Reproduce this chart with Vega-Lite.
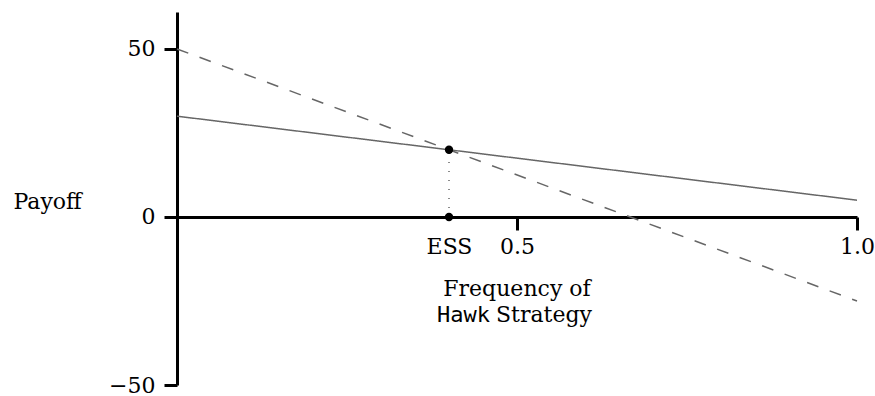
{
  "$schema": "https://vega.github.io/schema/vega-lite/v6.json",
  "width": 680,
  "height": 373,
  "autosize": {"type": "none"},
  "padding": {"left": 177, "top": 12, "right": 18, "bottom": 11},
  "background": "white",
  "config": {
    "view": {"stroke": null},
    "axis": {"grid": false, "domainColor": "black", "tickColor": "black", "labelColor": "black", "titleColor": "black", "labelFont": "DejaVu Serif", "titleFont": "DejaVu Serif", "labelFontSize": 22, "titleFontSize": 22, "titleFontWeight": "normal", "domainWidth": 3, "tickWidth": 3, "tickSize": 13}
  },
  "datasets": {
    "lines": [
      {"series": "upper", "x": 0, "y": 30},
      {"series": "upper", "x": 1, "y": 5},
      {"series": "dashed", "x": 0, "y": 50},
      {"series": "dashed", "x": 1, "y": -25}
    ],
    "ess": [
      {"x": 0.4, "y": 0, "y2": 20}
    ],
    "points": [
      {"x": 0.4, "y": 20},
      {"x": 0.4, "y": 0}
    ]
  },
  "layer": [
    {
      "data": {"name": "lines"},
      "mark": {"type": "line", "color": "#666666", "strokeWidth": 1.5},
      "encoding": {
        "x": {"field": "x", "type": "quantitative",
          "scale": {"domain": [0, 1], "nice": false, "zero": false},
          "axis": {"values": [0.4, 0.5, 1], "labelExpr": "datum.value == 0.4 ? 'ESS' : format(datum.value, '.1f')", "offset": -168, "labelPadding": 6, "labelFlush": false, "labelOverlap": false, "title": null,
            "tickOpacity": {"condition": {"test": "datum.value == 0.4", "value": 0}, "value": 1}}},
        "y": {"field": "y", "type": "quantitative",
          "scale": {"domain": [-50, 61], "nice": false, "zero": false},
          "axis": {"values": [-50, 0, 50], "labelPadding": 9, "labelFlush": false, "labelOverlap": false, "title": "Payoff", "titleAngle": 0, "titleAlign": "left", "titleBaseline": "alphabetic", "titleX": -164, "titleY": 196}},
        "strokeDash": {"field": "series", "type": "nominal", "scale": {"domain": ["upper", "dashed"], "range": [[1, 0], [12, 12]]}, "legend": null},
        "detail": {"field": "series"}
      }
    },
    {
      "data": {"name": "ess"},
      "mark": {"type": "rule", "color": "#666666", "strokeWidth": 1.5, "strokeDash": [1, 8]},
      "encoding": {
        "x": {"field": "x", "type": "quantitative"},
        "y": {"field": "y", "type": "quantitative"},
        "y2": {"field": "y2"}
      }
    },
    {
      "data": {"name": "points"},
      "mark": {"type": "point", "filled": true, "color": "black", "size": 70, "opacity": 1},
      "encoding": {
        "x": {"field": "x", "type": "quantitative"},
        "y": {"field": "y", "type": "quantitative"}
      }
    },
    {
      "data": {"values": [{"t": "Frequency of"}]},
      "mark": {"type": "text", "font": "DejaVu Serif", "fontSize": 22, "align": "center", "baseline": "alphabetic", "dy": 79, "color": "black"},
      "encoding": {
        "x": {"datum": 0.5, "type": "quantitative"},
        "y": {"datum": 0, "type": "quantitative"},
        "text": {"field": "t"}
      }
    },
    {
      "data": {"values": [{"t": "Hawk"}]},
      "mark": {"type": "text", "font": "DejaVu Sans Mono", "fontSize": 22, "align": "right", "baseline": "alphabetic", "dx": -27, "dy": 105, "color": "black"},
      "encoding": {
        "x": {"datum": 0.5, "type": "quantitative"},
        "y": {"datum": 0, "type": "quantitative"},
        "text": {"field": "t"}
      }
    },
    {
      "data": {"values": [{"t": "Strategy"}]},
      "mark": {"type": "text", "font": "DejaVu Serif", "fontSize": 22, "align": "left", "baseline": "alphabetic", "dx": -21, "dy": 105, "color": "black"},
      "encoding": {
        "x": {"datum": 0.5, "type": "quantitative"},
        "y": {"datum": 0, "type": "quantitative"},
        "text": {"field": "t"}
      }
    }
  ]
}
